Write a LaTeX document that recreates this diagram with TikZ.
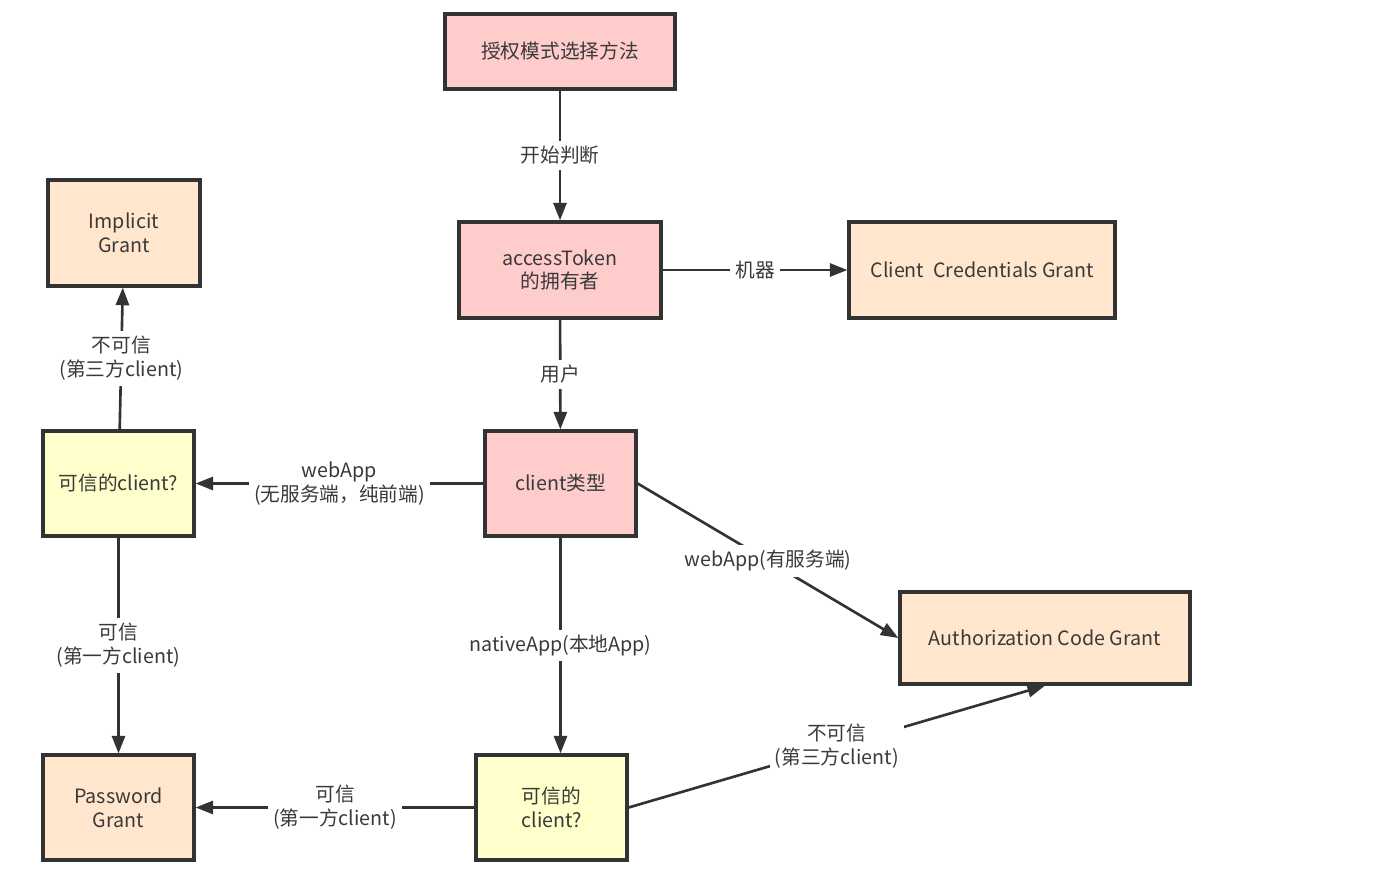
\documentclass[tikz,border=0pt]{standalone}
\usepackage{fontspec}
\setmainfont{Noto Sans CJK SC}
\usepackage{xcolor}
\usetikzlibrary{arrows.meta}
\definecolor{pinkfill}{HTML}{FFCCCC}
\definecolor{peachfill}{HTML}{FFE6CC}
\definecolor{yellowfill}{HTML}{FFFFCC}
\definecolor{linegray}{HTML}{333333}
\definecolor{textgray}{HTML}{3A3A3A}

\begin{document}
\begin{tikzpicture}[x=0.02cm, y=-0.02cm,
  box/.style={draw=linegray, line width=1.9pt, text=textgray, align=center, inner sep=0pt, font=\fontsize{11.2}{13.6}\selectfont},
  start/.style={box, fill=pinkfill},
  grant/.style={box, fill=peachfill},
  ask/.style={box, fill=yellowfill, minimum width=3.02cm, minimum height=2.1cm},
  arr/.style={draw=linegray, line width=1.5pt, -{Triangle[length=10pt,width=7.5pt]}},
  lbl/.style={fill=white, text=textgray, align=center, inner sep=3pt, font=\fontsize{11.2}{13.6}\selectfont}]
\useasboundingbox (0,0) rectangle (1379,881);
\node[start, minimum width=4.6cm, minimum height=1.5cm] (choose) at (560,51.5) {授权模式选择方法};
\node[start, minimum width=4.04cm, minimum height=1.92cm] (owner) at (560,270) {accessToken\\的拥有者};
\node[grant, minimum width=5.32cm, minimum height=1.92cm] (cc) at (982,270) {Client\ \ Credentials Grant};
\node[start, minimum width=3.02cm, minimum height=2.1cm] (ctype) at (560.5,483.5) {client类型};
\node[ask] (trust1) at (118.5,483.5) {可信的client?};
\node[grant, minimum width=3.04cm, minimum height=2.12cm] (implicit) at (124,233) {Implicit\\Grant};
\node[grant, minimum width=5.8cm, minimum height=1.84cm] (authcode) at (1045,638) {Authorization Code Grant};
\node[ask] (trust2) at (551.5,807.5) {可信的\\client?};
\node[grant, minimum width=3.02cm, minimum height=2.1cm] (password) at (118.5,807.5) {Password\\Grant};

\draw[arr] (choose) -- node[lbl] {开始判断} (owner);
\draw[arr] (owner) -- node[lbl] {机器} (cc);
\draw[arr] (owner) -- node[lbl] {用户} (ctype);
\draw[arr] (ctype) -- node[lbl] {webApp\\(无服务端，纯前端)} (trust1);
\draw[arr] (ctype.east) -- node[lbl] {webApp(有服务端)} (authcode.west);
\draw[arr] (ctype) -- node[lbl] {nativeApp(本地App)} (ctype |- trust2.north);
\draw[arr] (trust1) -- node[lbl] {不可信\\(第三方client)} (implicit);
\draw[arr] (trust1) -- node[lbl] {可信\\(第一方client)} (password);
\draw[arr] (trust2) -- node[lbl] {可信\\(第一方client)} (password);
\draw[arr] (trust2.east) -- node[lbl] {不可信\\(第三方client)} (authcode.south);
\end{tikzpicture}
\end{document}
